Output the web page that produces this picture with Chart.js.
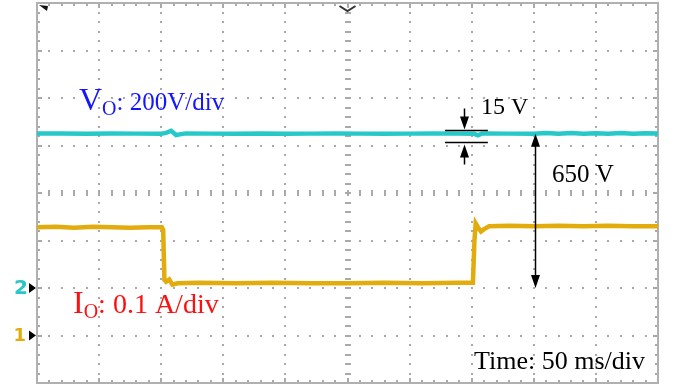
<!DOCTYPE html>
<html><head><meta charset="utf-8">
<script src="https://cdn.jsdelivr.net/npm/chart.js@4.4.1/dist/chart.umd.min.js"></script>
<style>html,body{margin:0;padding:0;background:#fff;}#wrap{width:677px;height:389px;}</style>
</head><body><div id="wrap"><canvas id="c" width="677" height="389"></canvas></div>
<script>
// Scope settings
const TIME_PER_DIV = 50;      // ms/div
const H_DIVS = 10;
const V_DIVS = 8;
const VO_SCALE = 200;         // V/div (channel 2)
const IO_SCALE = 0.1;         // A/div (channel 1)
const VO_GROUND_DIV = 2;      // channel 2 ground, divisions above bottom
const IO_GROUND_DIV = 1;      // channel 1 ground

// Channel 2: output voltage Vo (V) against time (ms)
const voTime  = [0, 20, 40, 60, 80, 100, 104, 108, 112, 116, 120, 140, 160, 180, 200, 220, 240, 260, 280, 300, 320, 340, 352, 355, 358, 362, 380, 400, 410, 420, 430, 440, 450, 460, 470, 480, 490, 500];
const voValue = [650, 651, 649, 651, 650, 650, 653, 662, 644, 648, 651, 650, 650, 651, 649, 650, 651, 650, 649, 650, 651, 650, 649, 643, 650, 651, 650, 650, 653, 650, 653, 650, 652, 650, 653, 650, 652, 650];

// Channel 1: output current Io (A) against time (ms)
const ioTime  = [0, 15, 30, 45, 60, 75, 90, 100.5, 101.6, 102.6, 104, 106.5, 109, 113, 130, 160, 190, 220, 250, 280, 310, 340, 351, 352.2, 353.2, 355, 357.5, 360, 364, 380, 400, 420, 440, 460, 480, 500];
const ioValue = [0.228, 0.229, 0.227, 0.229, 0.228, 0.227, 0.228, 0.228, 0.222, 0.117, 0.113, 0.118, 0.107, 0.110, 0.111, 0.110, 0.111, 0.110, 0.110, 0.111, 0.110, 0.111, 0.111, 0.2, 0.236, 0.228, 0.219, 0.224, 0.230, 0.231, 0.230, 0.231, 0.230, 0.231, 0.230, 0.230];

// Annotation values
const VO_LEVEL = 650;            // V, marked by the long arrow
const RIPPLE_TOP = 665;          // V, upper bracket line
const RIPPLE_BOTTOM = 615;       // V, lower bracket line
const ARROW_TIME = 401;          // ms
const RIPPLE_TIME = 343.8;       // ms
const RIPPLE_SPAN = [328.5, 363];

const CYAN = '#26c8c8';
const YELLOW = '#e2ac0c';

const voDiv = v => VO_GROUND_DIV + v / VO_SCALE;
const ioDiv = a => IO_GROUND_DIV + a / IO_SCALE;

const voPoints = voTime.map((t, i) => ({x: t, y: voDiv(voValue[i])}));
const ioPoints = ioTime.map((t, i) => ({x: t, y: ioDiv(ioValue[i])}));

function arrowHead(ctx, x, tipY, dir) {
  // dir = -1 points up, +1 points down
  ctx.beginPath();
  ctx.moveTo(x, tipY);
  ctx.lineTo(x - 4.5, tipY - dir * 13);
  ctx.lineTo(x + 4.5, tipY - dir * 13);
  ctx.closePath();
  ctx.fill();
}

const scopePlugin = {
  id: 'scope',
  beforeDatasetsDraw(chart) {
    const {ctx, chartArea: a} = chart;
    const dx = (a.right - a.left) / H_DIVS;
    const dy = (a.bottom - a.top) / V_DIVS;
    const cx = a.left + dx * H_DIVS / 2;
    const cy = a.top + dy * V_DIVS / 2;
    ctx.save();
    ctx.fillStyle = '#a9a9a9';
    // dotted graticule
    for (let i = 1; i < H_DIVS; i++) {
      const gx = a.left + i * dx;
      if (Math.abs(gx - cx) < 1) continue;
      for (let k = 1; k < V_DIVS * 5; k++) {
        ctx.fillRect(Math.round(gx) - 1, Math.round(a.top + k * dy / 5) - 1, 2, 2);
      }
    }
    for (let j = 1; j < V_DIVS; j++) {
      const gy = a.top + j * dy;
      if (Math.abs(gy - cy) < 1) continue;
      for (let k = 1; k < H_DIVS * 5; k++) {
        ctx.fillRect(Math.round(a.left + k * dx / 5) - 1, Math.round(gy) - 1, 2, 2);
      }
    }
    // centre axes with minor ticks
    for (let k = 1; k < H_DIVS * 5; k++) {
      ctx.fillRect(Math.round(a.left + k * dx / 5) - 1, Math.round(cy) - 3, 2, 6);
    }
    for (let k = 1; k < V_DIVS * 5; k++) {
      ctx.fillRect(Math.round(cx) - 3, Math.round(a.top + k * dy / 5) - 1, 6, 2);
    }
    // frame ticks
    for (let k = 1; k < H_DIVS * 5; k++) {
      const tx = Math.round(a.left + k * dx / 5) - 1;
      const len = (k % 5 === 0) ? 5 : 3;
      ctx.fillRect(tx, a.top, 2, len);
      ctx.fillRect(tx, a.bottom - len, 2, len);
    }
    for (let k = 1; k < V_DIVS * 5; k++) {
      const ty = Math.round(a.top + k * dy / 5) - 1;
      const len = (k % 5 === 0) ? 5 : 3;
      ctx.fillRect(a.left, ty, len, 2);
      ctx.fillRect(a.right - len, ty, len, 2);
    }
    // frame
    ctx.strokeStyle = '#b0b0b0';
    ctx.lineWidth = 2;
    ctx.strokeRect(a.left, a.top, a.right - a.left, a.bottom - a.top);
    ctx.restore();
  },
  afterDatasetsDraw(chart) {
    const {ctx, scales: {x, y}} = chart;
    ctx.save();
    ctx.fillStyle = '#000';
    ctx.strokeStyle = '#000';
    ctx.lineWidth = 1.5;

    // 650 V arrow from ground to output level
    const ax = Math.round(x.getPixelForValue(ARROW_TIME)) + 0.5;
    const yTop = y.getPixelForValue(voDiv(VO_LEVEL));
    const yBot = y.getPixelForValue(voDiv(0));
    ctx.beginPath();
    ctx.moveTo(ax, yTop + 8);
    ctx.lineTo(ax, yBot - 8);
    ctx.stroke();
    arrowHead(ctx, ax, yTop, -1);
    arrowHead(ctx, ax, yBot, 1);

    // ripple bracket
    const r1 = Math.round(y.getPixelForValue(voDiv(RIPPLE_TOP))) + 0.5;
    const r2 = Math.round(y.getPixelForValue(voDiv(RIPPLE_BOTTOM))) + 0.5;
    const rx0 = x.getPixelForValue(RIPPLE_SPAN[0]);
    const rx1 = x.getPixelForValue(RIPPLE_SPAN[1]);
    ctx.beginPath();
    ctx.moveTo(rx0, r1); ctx.lineTo(rx1, r1);
    ctx.moveTo(rx0, r2); ctx.lineTo(rx1, r2);
    const rx = Math.round(x.getPixelForValue(RIPPLE_TIME)) + 0.5;
    ctx.moveTo(rx, r1 - 22); ctx.lineTo(rx, r1 - 6);
    ctx.moveTo(rx, r2 + 6); ctx.lineTo(rx, r2 + 22);
    ctx.stroke();
    arrowHead(ctx, rx, r1 - 1, 1);
    arrowHead(ctx, rx, r2 + 2, -1);

    // text labels
    ctx.textBaseline = 'alphabetic';
    ctx.textAlign = 'left';
    ctx.font = '24px "Liberation Serif"';
    ctx.fillText('15 V', 481, 114);
    ctx.font = '25px "Liberation Serif"';
    ctx.fillText('650 V', 552, 182);
    ctx.font = '26px "Liberation Serif"';
    ctx.fillText('Time: 50 ms/div', 474, 369);

    // channel labels
    function chanLabel(main, sub, rest, x0, base, color, restSize) {
      ctx.fillStyle = color;
      ctx.font = '32px "Liberation Serif"';
      ctx.fillText(main, x0, base);
      let xx = x0 + ctx.measureText(main).width;
      ctx.font = '20px "Liberation Serif"';
      ctx.fillText(sub, xx, base + 5);
      xx += ctx.measureText(sub).width;
      ctx.font = restSize + 'px "Liberation Serif"';
      ctx.fillText(rest, xx, base);
    }
    chanLabel('V', 'O', ': 200V/div', 79, 110, '#1515ff', 25);
    chanLabel('I', 'O', ': 0.1 A/div', 73, 313, '#ff1010', 28);
    ctx.restore();
  },
  afterDraw(chart) {
    const {ctx, chartArea: a, scales: {x, y}} = chart;
    ctx.save();
    // ground markers
    const g2 = y.getPixelForValue(VO_GROUND_DIV);
    const g1 = y.getPixelForValue(IO_GROUND_DIV);
    ctx.font = 'bold 20px "DejaVu Sans"';
    ctx.textBaseline = 'middle';
    ctx.textAlign = 'right';
    ctx.fillStyle = CYAN;
    ctx.fillText('2', 28, g2 + 1);
    ctx.fillStyle = YELLOW;
    ctx.font = 'bold 18px "DejaVu Sans"';
    ctx.fillText('1', 26, g1 + 1);
    ctx.fillStyle = '#000';
    [g2, g1].forEach(g => {
      ctx.beginPath();
      ctx.moveTo(29, g - 5);
      ctx.lineTo(36, g);
      ctx.lineTo(29, g + 5);
      ctx.closePath();
      ctx.fill();
    });
    // trigger position marker (top)
    const tx = x.getPixelForValue(TIME_PER_DIV * H_DIVS / 2);
    ctx.strokeStyle = '#333';
    ctx.lineWidth = 2;
    ctx.beginPath();
    ctx.moveTo(tx - 8, a.top + 3);
    ctx.lineTo(tx, a.top + 8);
    ctx.lineTo(tx + 8, a.top + 3);
    ctx.stroke();
    // corner marker
    ctx.fillStyle = '#111';
    ctx.beginPath();
    ctx.moveTo(a.left + 2, a.top + 2);
    ctx.lineTo(a.left + 11, a.top + 3);
    ctx.lineTo(a.left + 10, a.top + 8);
    ctx.closePath();
    ctx.fill();
    ctx.restore();
  }
};

new Chart(document.getElementById('c'), {
  type: 'scatter',
  data: {
    datasets: [
      {label: 'Vo', data: voPoints, showLine: true, borderColor: CYAN, borderWidth: 4.5, pointRadius: 0, tension: 0},
      {label: 'Io', data: ioPoints, showLine: true, borderColor: YELLOW, borderWidth: 4.5, pointRadius: 0, tension: 0}
    ]
  },
  options: {
    responsive: false,
    animation: false,
    layout: {padding: {left: 37, top: 3, right: 19, bottom: 6}},
    plugins: {legend: {display: false}, tooltip: {enabled: false}},
    scales: {
      x: {type: 'linear', display: false, min: 0, max: TIME_PER_DIV * H_DIVS},
      y: {type: 'linear', display: false, min: 0, max: V_DIVS}
    }
  },
  plugins: [scopePlugin]
});
</script>
</body></html>
